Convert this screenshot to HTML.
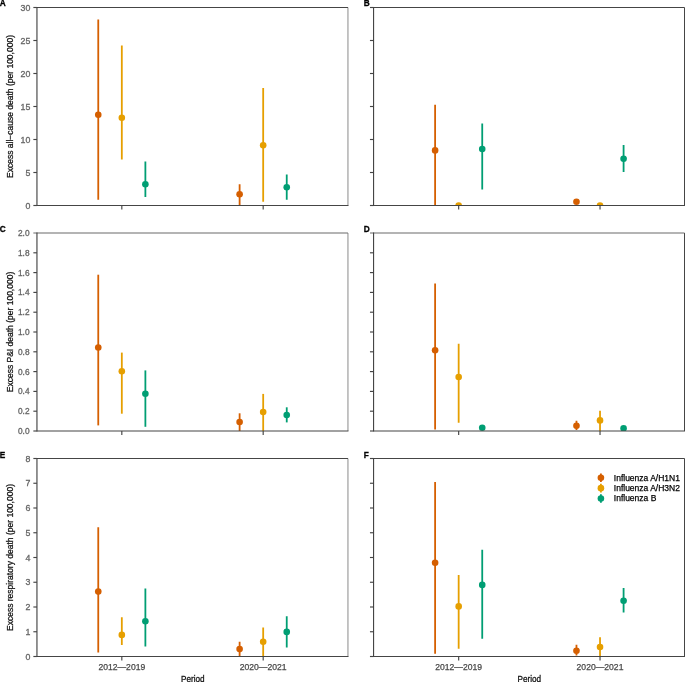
<!DOCTYPE html><html><head><meta charset="utf-8"><title>Figure</title><style>html,body{margin:0;padding:0;background:#fff}svg{display:block}text{font-family:"Liberation Sans",sans-serif}</style></head><body>
<svg width="685" height="682" viewBox="0 0 685 682">
<rect width="685" height="682" fill="#fff"/>
<defs><filter id="bl" x="0" y="0" width="685" height="682" filterUnits="userSpaceOnUse"><feGaussianBlur stdDeviation="0.35"/></filter>
<clipPath id="cA"><rect x="36.95" y="7.5" width="311.0" height="198.00"/></clipPath>
<clipPath id="cB"><rect x="373.55" y="7.5" width="311.0" height="198.00"/></clipPath>
<clipPath id="cC"><rect x="36.95" y="233.0" width="311.0" height="198.00"/></clipPath>
<clipPath id="cD"><rect x="373.55" y="233.0" width="311.0" height="198.00"/></clipPath>
<clipPath id="cE"><rect x="36.95" y="458.5" width="311.0" height="198.00"/></clipPath>
<clipPath id="cF"><rect x="373.55" y="458.5" width="311.0" height="198.00"/></clipPath>
</defs>
<g filter="url(#bl)">
<rect width="685" height="682" fill="#fff"/>
<g clip-path="url(#cA)">
<line x1="98.26" x2="98.26" y1="19.4" y2="199.8" stroke="#D55E00" stroke-width="1.8"/>
<circle cx="98.26" cy="114.80" r="3.3" fill="#D55E00"/>
<line x1="121.82" x2="121.82" y1="45.6" y2="159.5" stroke="#E69F00" stroke-width="1.8"/>
<circle cx="121.82" cy="117.80" r="3.3" fill="#E69F00"/>
<line x1="145.38" x2="145.38" y1="161.5" y2="197.1" stroke="#009E73" stroke-width="1.8"/>
<circle cx="145.38" cy="184.30" r="3.3" fill="#009E73"/>
<line x1="239.62" x2="239.62" y1="184.3" y2="215" stroke="#D55E00" stroke-width="1.8"/>
<circle cx="239.62" cy="194.30" r="3.3" fill="#D55E00"/>
<line x1="263.18" x2="263.18" y1="87.9" y2="201.8" stroke="#E69F00" stroke-width="1.8"/>
<circle cx="263.18" cy="145.30" r="3.3" fill="#E69F00"/>
<line x1="286.74" x2="286.74" y1="174.6" y2="199.8" stroke="#009E73" stroke-width="1.8"/>
<circle cx="286.74" cy="187.30" r="3.3" fill="#009E73"/>
</g>
<line x1="347.95" x2="347.95" y1="7.5" y2="205.5" stroke="#999999" stroke-width="1.15"/>
<line x1="36.95" x2="347.95" y1="7.5" y2="7.5" stroke="#444444" stroke-width="1.15"/>
<line x1="36.95" x2="36.95" y1="7.0" y2="206.0" stroke="#444444" stroke-width="1.15"/>
<line x1="36.95" x2="348.45" y1="205.5" y2="205.5" stroke="#444444" stroke-width="1.15"/>
<line x1="33.35" x2="36.95" y1="205.50" y2="205.50" stroke="#444444" stroke-width="1.15"/>
<text x="30.300000000000004" y="208.55" font-size="8.8" fill="#666666" stroke="#666666" stroke-width="0.3" text-anchor="end">0</text>
<line x1="33.35" x2="36.95" y1="172.50" y2="172.50" stroke="#444444" stroke-width="1.15"/>
<text x="30.300000000000004" y="175.55" font-size="8.8" fill="#666666" stroke="#666666" stroke-width="0.3" text-anchor="end">5</text>
<line x1="33.35" x2="36.95" y1="139.50" y2="139.50" stroke="#444444" stroke-width="1.15"/>
<text x="30.300000000000004" y="142.55" font-size="8.8" fill="#666666" stroke="#666666" stroke-width="0.3" text-anchor="end">10</text>
<line x1="33.35" x2="36.95" y1="106.50" y2="106.50" stroke="#444444" stroke-width="1.15"/>
<text x="30.300000000000004" y="109.55" font-size="8.8" fill="#666666" stroke="#666666" stroke-width="0.3" text-anchor="end">15</text>
<line x1="33.35" x2="36.95" y1="73.50" y2="73.50" stroke="#444444" stroke-width="1.15"/>
<text x="30.300000000000004" y="76.55" font-size="8.8" fill="#666666" stroke="#666666" stroke-width="0.3" text-anchor="end">20</text>
<line x1="33.35" x2="36.95" y1="40.50" y2="40.50" stroke="#444444" stroke-width="1.15"/>
<text x="30.300000000000004" y="43.55" font-size="8.8" fill="#666666" stroke="#666666" stroke-width="0.3" text-anchor="end">25</text>
<line x1="33.35" x2="36.95" y1="7.50" y2="7.50" stroke="#444444" stroke-width="1.15"/>
<text x="30.300000000000004" y="10.55" font-size="8.8" fill="#666666" stroke="#666666" stroke-width="0.3" text-anchor="end">30</text>
<line x1="121.82" x2="121.82" y1="205.5" y2="209.5" stroke="#444444" stroke-width="1.15"/>
<line x1="263.18" x2="263.18" y1="205.5" y2="209.5" stroke="#444444" stroke-width="1.15"/>
<text transform="translate(12.5,106.50) rotate(-90)" font-size="8.5" fill="#111" stroke="#111" stroke-width="0.25" text-anchor="middle">Excess all−cause death (per 100,000)</text>
<text transform="translate(-0.3,5.75) scale(0.93,1)" font-size="8.9" font-weight="bold" fill="#000" stroke="#000" stroke-width="0.3">A</text>
<g clip-path="url(#cB)">
<line x1="435.11" x2="435.11" y1="104.7" y2="215" stroke="#D55E00" stroke-width="1.8"/>
<circle cx="435.11" cy="150.40" r="3.3" fill="#D55E00"/>
<circle cx="458.67" cy="205.60" r="3.3" fill="#E69F00"/>
<line x1="482.23" x2="482.23" y1="123.5" y2="189.4" stroke="#009E73" stroke-width="1.8"/>
<circle cx="482.23" cy="149.00" r="3.3" fill="#009E73"/>
<circle cx="576.47" cy="201.70" r="3.3" fill="#D55E00"/>
<circle cx="600.03" cy="205.60" r="3.3" fill="#E69F00"/>
<line x1="623.59" x2="623.59" y1="145.0" y2="171.9" stroke="#009E73" stroke-width="1.8"/>
<circle cx="623.59" cy="158.80" r="3.3" fill="#009E73"/>
</g>
<line x1="684.55" x2="684.55" y1="7.5" y2="205.5" stroke="#444444" stroke-width="1.15"/>
<line x1="373.55" x2="684.55" y1="7.5" y2="7.5" stroke="#444444" stroke-width="1.15"/>
<line x1="373.55" x2="373.55" y1="7.0" y2="206.0" stroke="#444444" stroke-width="1.15"/>
<line x1="373.55" x2="685.05" y1="205.5" y2="205.5" stroke="#444444" stroke-width="1.15"/>
<line x1="369.95" x2="373.55" y1="205.50" y2="205.50" stroke="#444444" stroke-width="1.15"/>
<line x1="369.95" x2="373.55" y1="172.50" y2="172.50" stroke="#444444" stroke-width="1.15"/>
<line x1="369.95" x2="373.55" y1="139.50" y2="139.50" stroke="#444444" stroke-width="1.15"/>
<line x1="369.95" x2="373.55" y1="106.50" y2="106.50" stroke="#444444" stroke-width="1.15"/>
<line x1="369.95" x2="373.55" y1="73.50" y2="73.50" stroke="#444444" stroke-width="1.15"/>
<line x1="369.95" x2="373.55" y1="40.50" y2="40.50" stroke="#444444" stroke-width="1.15"/>
<line x1="369.95" x2="373.55" y1="7.50" y2="7.50" stroke="#444444" stroke-width="1.15"/>
<line x1="458.67" x2="458.67" y1="205.5" y2="209.5" stroke="#444444" stroke-width="1.15"/>
<line x1="600.03" x2="600.03" y1="205.5" y2="209.5" stroke="#444444" stroke-width="1.15"/>
<text transform="translate(363.7,5.75) scale(0.93,1)" font-size="8.9" font-weight="bold" fill="#000" stroke="#000" stroke-width="0.3">B</text>
<g clip-path="url(#cC)">
<line x1="98.26" x2="98.26" y1="274.7" y2="425.4" stroke="#D55E00" stroke-width="1.8"/>
<circle cx="98.26" cy="347.50" r="3.3" fill="#D55E00"/>
<line x1="121.82" x2="121.82" y1="352.6" y2="413.7" stroke="#E69F00" stroke-width="1.8"/>
<circle cx="121.82" cy="371.30" r="3.3" fill="#E69F00"/>
<line x1="145.38" x2="145.38" y1="370.4" y2="426.8" stroke="#009E73" stroke-width="1.8"/>
<circle cx="145.38" cy="393.80" r="3.3" fill="#009E73"/>
<line x1="239.62" x2="239.62" y1="413.3" y2="440" stroke="#D55E00" stroke-width="1.8"/>
<circle cx="239.62" cy="422.00" r="3.3" fill="#D55E00"/>
<line x1="263.18" x2="263.18" y1="393.9" y2="440" stroke="#E69F00" stroke-width="1.8"/>
<circle cx="263.18" cy="412.00" r="3.3" fill="#E69F00"/>
<line x1="286.74" x2="286.74" y1="407.3" y2="422.4" stroke="#009E73" stroke-width="1.8"/>
<circle cx="286.74" cy="415.00" r="3.3" fill="#009E73"/>
</g>
<line x1="347.95" x2="347.95" y1="233.0" y2="431.0" stroke="#999999" stroke-width="1.15"/>
<line x1="33.35" x2="347.95" y1="233.0" y2="233.0" stroke="#6a6a6a" stroke-width="1.15"/>
<line x1="36.95" x2="36.95" y1="232.5" y2="431.5" stroke="#444444" stroke-width="1.15"/>
<line x1="36.95" x2="348.45" y1="431.0" y2="431.0" stroke="#444444" stroke-width="1.15"/>
<line x1="33.35" x2="36.95" y1="431.00" y2="431.00" stroke="#444444" stroke-width="1.15"/>
<text x="29.550000000000004" y="433.90" font-size="8.3" fill="#666666" stroke="#666666" stroke-width="0.3" text-anchor="end">0.0</text>
<line x1="33.35" x2="36.95" y1="411.20" y2="411.20" stroke="#444444" stroke-width="1.15"/>
<text x="29.550000000000004" y="414.10" font-size="8.3" fill="#666666" stroke="#666666" stroke-width="0.3" text-anchor="end">0.2</text>
<line x1="33.35" x2="36.95" y1="391.40" y2="391.40" stroke="#444444" stroke-width="1.15"/>
<text x="29.550000000000004" y="394.30" font-size="8.3" fill="#666666" stroke="#666666" stroke-width="0.3" text-anchor="end">0.4</text>
<line x1="33.35" x2="36.95" y1="371.60" y2="371.60" stroke="#444444" stroke-width="1.15"/>
<text x="29.550000000000004" y="374.50" font-size="8.3" fill="#666666" stroke="#666666" stroke-width="0.3" text-anchor="end">0.6</text>
<line x1="33.35" x2="36.95" y1="351.80" y2="351.80" stroke="#444444" stroke-width="1.15"/>
<text x="29.550000000000004" y="354.70" font-size="8.3" fill="#666666" stroke="#666666" stroke-width="0.3" text-anchor="end">0.8</text>
<line x1="33.35" x2="36.95" y1="332.00" y2="332.00" stroke="#444444" stroke-width="1.15"/>
<text x="29.550000000000004" y="334.90" font-size="8.3" fill="#666666" stroke="#666666" stroke-width="0.3" text-anchor="end">1.0</text>
<line x1="33.35" x2="36.95" y1="312.20" y2="312.20" stroke="#444444" stroke-width="1.15"/>
<text x="29.550000000000004" y="315.10" font-size="8.3" fill="#666666" stroke="#666666" stroke-width="0.3" text-anchor="end">1.2</text>
<line x1="33.35" x2="36.95" y1="292.40" y2="292.40" stroke="#444444" stroke-width="1.15"/>
<text x="29.550000000000004" y="295.30" font-size="8.3" fill="#666666" stroke="#666666" stroke-width="0.3" text-anchor="end">1.4</text>
<line x1="33.35" x2="36.95" y1="272.60" y2="272.60" stroke="#444444" stroke-width="1.15"/>
<text x="29.550000000000004" y="275.50" font-size="8.3" fill="#666666" stroke="#666666" stroke-width="0.3" text-anchor="end">1.6</text>
<line x1="33.35" x2="36.95" y1="252.80" y2="252.80" stroke="#444444" stroke-width="1.15"/>
<text x="29.550000000000004" y="255.70" font-size="8.3" fill="#666666" stroke="#666666" stroke-width="0.3" text-anchor="end">1.8</text>
<text x="29.550000000000004" y="235.90" font-size="8.3" fill="#666666" stroke="#666666" stroke-width="0.3" text-anchor="end">2.0</text>
<line x1="121.82" x2="121.82" y1="431.0" y2="435.0" stroke="#444444" stroke-width="1.15"/>
<line x1="263.18" x2="263.18" y1="431.0" y2="435.0" stroke="#444444" stroke-width="1.15"/>
<text transform="translate(12.5,332.00) rotate(-90)" font-size="8.5" fill="#111" stroke="#111" stroke-width="0.25" text-anchor="middle">Excess P&amp;I death (per 100,000)</text>
<text transform="translate(-0.3,232.05) scale(0.93,1)" font-size="8.9" font-weight="bold" fill="#000" stroke="#000" stroke-width="0.3">C</text>
<g clip-path="url(#cD)">
<line x1="435.11" x2="435.11" y1="283.4" y2="429.5" stroke="#D55E00" stroke-width="1.8"/>
<circle cx="435.11" cy="350.20" r="3.3" fill="#D55E00"/>
<line x1="458.67" x2="458.67" y1="343.8" y2="422.7" stroke="#E69F00" stroke-width="1.8"/>
<circle cx="458.67" cy="377.00" r="3.3" fill="#E69F00"/>
<circle cx="482.23" cy="427.70" r="3.3" fill="#009E73"/>
<line x1="576.47" x2="576.47" y1="420.7" y2="430.1" stroke="#D55E00" stroke-width="1.8"/>
<circle cx="576.47" cy="425.70" r="3.3" fill="#D55E00"/>
<line x1="600.03" x2="600.03" y1="410.7" y2="440" stroke="#E69F00" stroke-width="1.8"/>
<circle cx="600.03" cy="420.40" r="3.3" fill="#E69F00"/>
<circle cx="623.59" cy="428.40" r="3.3" fill="#009E73"/>
</g>
<line x1="684.55" x2="684.55" y1="233.0" y2="431.0" stroke="#444444" stroke-width="1.15"/>
<line x1="369.95" x2="684.55" y1="233.0" y2="233.0" stroke="#6a6a6a" stroke-width="1.15"/>
<line x1="373.55" x2="373.55" y1="232.5" y2="431.5" stroke="#444444" stroke-width="1.15"/>
<line x1="373.55" x2="685.05" y1="431.0" y2="431.0" stroke="#444444" stroke-width="1.15"/>
<line x1="369.95" x2="373.55" y1="431.00" y2="431.00" stroke="#444444" stroke-width="1.15"/>
<line x1="369.95" x2="373.55" y1="411.20" y2="411.20" stroke="#444444" stroke-width="1.15"/>
<line x1="369.95" x2="373.55" y1="391.40" y2="391.40" stroke="#444444" stroke-width="1.15"/>
<line x1="369.95" x2="373.55" y1="371.60" y2="371.60" stroke="#444444" stroke-width="1.15"/>
<line x1="369.95" x2="373.55" y1="351.80" y2="351.80" stroke="#444444" stroke-width="1.15"/>
<line x1="369.95" x2="373.55" y1="332.00" y2="332.00" stroke="#444444" stroke-width="1.15"/>
<line x1="369.95" x2="373.55" y1="312.20" y2="312.20" stroke="#444444" stroke-width="1.15"/>
<line x1="369.95" x2="373.55" y1="292.40" y2="292.40" stroke="#444444" stroke-width="1.15"/>
<line x1="369.95" x2="373.55" y1="272.60" y2="272.60" stroke="#444444" stroke-width="1.15"/>
<line x1="369.95" x2="373.55" y1="252.80" y2="252.80" stroke="#444444" stroke-width="1.15"/>
<line x1="458.67" x2="458.67" y1="431.0" y2="435.0" stroke="#444444" stroke-width="1.15"/>
<line x1="600.03" x2="600.03" y1="431.0" y2="435.0" stroke="#444444" stroke-width="1.15"/>
<text transform="translate(363.7,232.05) scale(0.93,1)" font-size="8.9" font-weight="bold" fill="#000" stroke="#000" stroke-width="0.3">D</text>
<g clip-path="url(#cE)">
<line x1="98.26" x2="98.26" y1="527.2" y2="652.4" stroke="#D55E00" stroke-width="1.8"/>
<circle cx="98.26" cy="591.60" r="3.3" fill="#D55E00"/>
<line x1="121.82" x2="121.82" y1="617.2" y2="645.1" stroke="#E69F00" stroke-width="1.8"/>
<circle cx="121.82" cy="634.90" r="3.3" fill="#E69F00"/>
<line x1="145.38" x2="145.38" y1="588.6" y2="646.4" stroke="#009E73" stroke-width="1.8"/>
<circle cx="145.38" cy="621.20" r="3.3" fill="#009E73"/>
<line x1="239.62" x2="239.62" y1="641.7" y2="665" stroke="#D55E00" stroke-width="1.8"/>
<circle cx="239.62" cy="649.10" r="3.3" fill="#D55E00"/>
<line x1="263.18" x2="263.18" y1="627.6" y2="665" stroke="#E69F00" stroke-width="1.8"/>
<circle cx="263.18" cy="641.70" r="3.3" fill="#E69F00"/>
<line x1="286.74" x2="286.74" y1="616.2" y2="647.4" stroke="#009E73" stroke-width="1.8"/>
<circle cx="286.74" cy="631.90" r="3.3" fill="#009E73"/>
</g>
<line x1="347.95" x2="347.95" y1="458.5" y2="656.5" stroke="#999999" stroke-width="1.15"/>
<line x1="36.95" x2="347.95" y1="458.5" y2="458.5" stroke="#444444" stroke-width="1.15"/>
<line x1="36.95" x2="36.95" y1="458.0" y2="657.0" stroke="#444444" stroke-width="1.15"/>
<line x1="36.95" x2="348.45" y1="656.5" y2="656.5" stroke="#444444" stroke-width="1.15"/>
<line x1="33.35" x2="36.95" y1="656.50" y2="656.50" stroke="#444444" stroke-width="1.15"/>
<text x="30.300000000000004" y="659.55" font-size="8.8" fill="#666666" stroke="#666666" stroke-width="0.3" text-anchor="end">0</text>
<line x1="33.35" x2="36.95" y1="631.75" y2="631.75" stroke="#444444" stroke-width="1.15"/>
<text x="30.300000000000004" y="634.80" font-size="8.8" fill="#666666" stroke="#666666" stroke-width="0.3" text-anchor="end">1</text>
<line x1="33.35" x2="36.95" y1="607.00" y2="607.00" stroke="#444444" stroke-width="1.15"/>
<text x="30.300000000000004" y="610.05" font-size="8.8" fill="#666666" stroke="#666666" stroke-width="0.3" text-anchor="end">2</text>
<line x1="33.35" x2="36.95" y1="582.25" y2="582.25" stroke="#444444" stroke-width="1.15"/>
<text x="30.300000000000004" y="585.30" font-size="8.8" fill="#666666" stroke="#666666" stroke-width="0.3" text-anchor="end">3</text>
<line x1="33.35" x2="36.95" y1="557.50" y2="557.50" stroke="#444444" stroke-width="1.15"/>
<text x="30.300000000000004" y="560.55" font-size="8.8" fill="#666666" stroke="#666666" stroke-width="0.3" text-anchor="end">4</text>
<line x1="33.35" x2="36.95" y1="532.75" y2="532.75" stroke="#444444" stroke-width="1.15"/>
<text x="30.300000000000004" y="535.80" font-size="8.8" fill="#666666" stroke="#666666" stroke-width="0.3" text-anchor="end">5</text>
<line x1="33.35" x2="36.95" y1="508.00" y2="508.00" stroke="#444444" stroke-width="1.15"/>
<text x="30.300000000000004" y="511.05" font-size="8.8" fill="#666666" stroke="#666666" stroke-width="0.3" text-anchor="end">6</text>
<line x1="33.35" x2="36.95" y1="483.25" y2="483.25" stroke="#444444" stroke-width="1.15"/>
<text x="30.300000000000004" y="486.30" font-size="8.8" fill="#666666" stroke="#666666" stroke-width="0.3" text-anchor="end">7</text>
<line x1="33.35" x2="36.95" y1="458.50" y2="458.50" stroke="#444444" stroke-width="1.15"/>
<text x="30.300000000000004" y="461.55" font-size="8.8" fill="#666666" stroke="#666666" stroke-width="0.3" text-anchor="end">8</text>
<line x1="121.82" x2="121.82" y1="656.5" y2="660.5" stroke="#444444" stroke-width="1.15"/>
<text x="121.82" y="670.00" font-size="8.6" fill="#4a4a4a" stroke="#4a4a4a" stroke-width="0.25" text-anchor="middle">2012—2019</text>
<line x1="263.18" x2="263.18" y1="656.5" y2="660.5" stroke="#444444" stroke-width="1.15"/>
<text x="263.18" y="670.00" font-size="8.6" fill="#4a4a4a" stroke="#4a4a4a" stroke-width="0.25" text-anchor="middle">2020—2021</text>
<text transform="translate(192.75,682.30) scale(1,1.17)" font-size="8.2" fill="#111" stroke="#111" stroke-width="0.25" text-anchor="middle">Period</text>
<text transform="translate(12.5,557.50) rotate(-90)" font-size="8.5" fill="#111" stroke="#111" stroke-width="0.25" text-anchor="middle">Excess respiratory death (per 100,000)</text>
<text transform="translate(-0.3,457.55) scale(0.93,1)" font-size="8.9" font-weight="bold" fill="#000" stroke="#000" stroke-width="0.3">E</text>
<g clip-path="url(#cF)">
<line x1="435.11" x2="435.11" y1="481.9" y2="653.8" stroke="#D55E00" stroke-width="1.8"/>
<circle cx="435.11" cy="562.80" r="3.3" fill="#D55E00"/>
<line x1="458.67" x2="458.67" y1="574.9" y2="648.8" stroke="#E69F00" stroke-width="1.8"/>
<circle cx="458.67" cy="606.40" r="3.3" fill="#E69F00"/>
<line x1="482.23" x2="482.23" y1="549.7" y2="638.7" stroke="#009E73" stroke-width="1.8"/>
<circle cx="482.23" cy="584.90" r="3.3" fill="#009E73"/>
<line x1="576.47" x2="576.47" y1="644.7" y2="655.5" stroke="#D55E00" stroke-width="1.8"/>
<circle cx="576.47" cy="650.70" r="3.3" fill="#D55E00"/>
<line x1="600.03" x2="600.03" y1="637.3" y2="665" stroke="#E69F00" stroke-width="1.8"/>
<circle cx="600.03" cy="647.00" r="3.3" fill="#E69F00"/>
<line x1="623.59" x2="623.59" y1="588.0" y2="612.5" stroke="#009E73" stroke-width="1.8"/>
<circle cx="623.59" cy="600.70" r="3.3" fill="#009E73"/>
</g>
<line x1="684.55" x2="684.55" y1="458.5" y2="656.5" stroke="#444444" stroke-width="1.15"/>
<line x1="373.55" x2="684.55" y1="458.5" y2="458.5" stroke="#444444" stroke-width="1.15"/>
<line x1="373.55" x2="373.55" y1="458.0" y2="657.0" stroke="#444444" stroke-width="1.15"/>
<line x1="373.55" x2="685.05" y1="656.5" y2="656.5" stroke="#444444" stroke-width="1.15"/>
<line x1="369.95" x2="373.55" y1="656.50" y2="656.50" stroke="#444444" stroke-width="1.15"/>
<line x1="369.95" x2="373.55" y1="631.75" y2="631.75" stroke="#444444" stroke-width="1.15"/>
<line x1="369.95" x2="373.55" y1="607.00" y2="607.00" stroke="#444444" stroke-width="1.15"/>
<line x1="369.95" x2="373.55" y1="582.25" y2="582.25" stroke="#444444" stroke-width="1.15"/>
<line x1="369.95" x2="373.55" y1="557.50" y2="557.50" stroke="#444444" stroke-width="1.15"/>
<line x1="369.95" x2="373.55" y1="532.75" y2="532.75" stroke="#444444" stroke-width="1.15"/>
<line x1="369.95" x2="373.55" y1="508.00" y2="508.00" stroke="#444444" stroke-width="1.15"/>
<line x1="369.95" x2="373.55" y1="483.25" y2="483.25" stroke="#444444" stroke-width="1.15"/>
<line x1="369.95" x2="373.55" y1="458.50" y2="458.50" stroke="#444444" stroke-width="1.15"/>
<line x1="458.67" x2="458.67" y1="656.5" y2="660.5" stroke="#444444" stroke-width="1.15"/>
<text x="458.67" y="670.00" font-size="8.6" fill="#4a4a4a" stroke="#4a4a4a" stroke-width="0.25" text-anchor="middle">2012—2019</text>
<line x1="600.03" x2="600.03" y1="656.5" y2="660.5" stroke="#444444" stroke-width="1.15"/>
<text x="600.03" y="670.00" font-size="8.6" fill="#4a4a4a" stroke="#4a4a4a" stroke-width="0.25" text-anchor="middle">2020—2021</text>
<text transform="translate(529.35,682.30) scale(1,1.17)" font-size="8.2" fill="#111" stroke="#111" stroke-width="0.25" text-anchor="middle">Period</text>
<text transform="translate(363.7,457.55) scale(0.93,1)" font-size="8.9" font-weight="bold" fill="#000" stroke="#000" stroke-width="0.3">F</text>
<line x1="600.9" x2="600.9" y1="473.50" y2="482.10" stroke="#D55E00" stroke-width="1.8"/>
<circle cx="600.9" cy="477.80" r="3.3" fill="#D55E00"/>
<text x="613.8" y="480.70" font-size="8.5" fill="#000" stroke="#000" stroke-width="0.25">Influenza A/H1N1</text>
<line x1="600.9" x2="600.9" y1="483.85" y2="492.45" stroke="#E69F00" stroke-width="1.8"/>
<circle cx="600.9" cy="488.15" r="3.3" fill="#E69F00"/>
<text x="613.8" y="491.05" font-size="8.5" fill="#000" stroke="#000" stroke-width="0.25">Influenza A/H3N2</text>
<line x1="600.9" x2="600.9" y1="494.20" y2="502.80" stroke="#009E73" stroke-width="1.8"/>
<circle cx="600.9" cy="498.50" r="3.3" fill="#009E73"/>
<text x="613.8" y="501.40" font-size="8.5" fill="#000" stroke="#000" stroke-width="0.25">Influenza B</text>
</g></svg></body></html>
